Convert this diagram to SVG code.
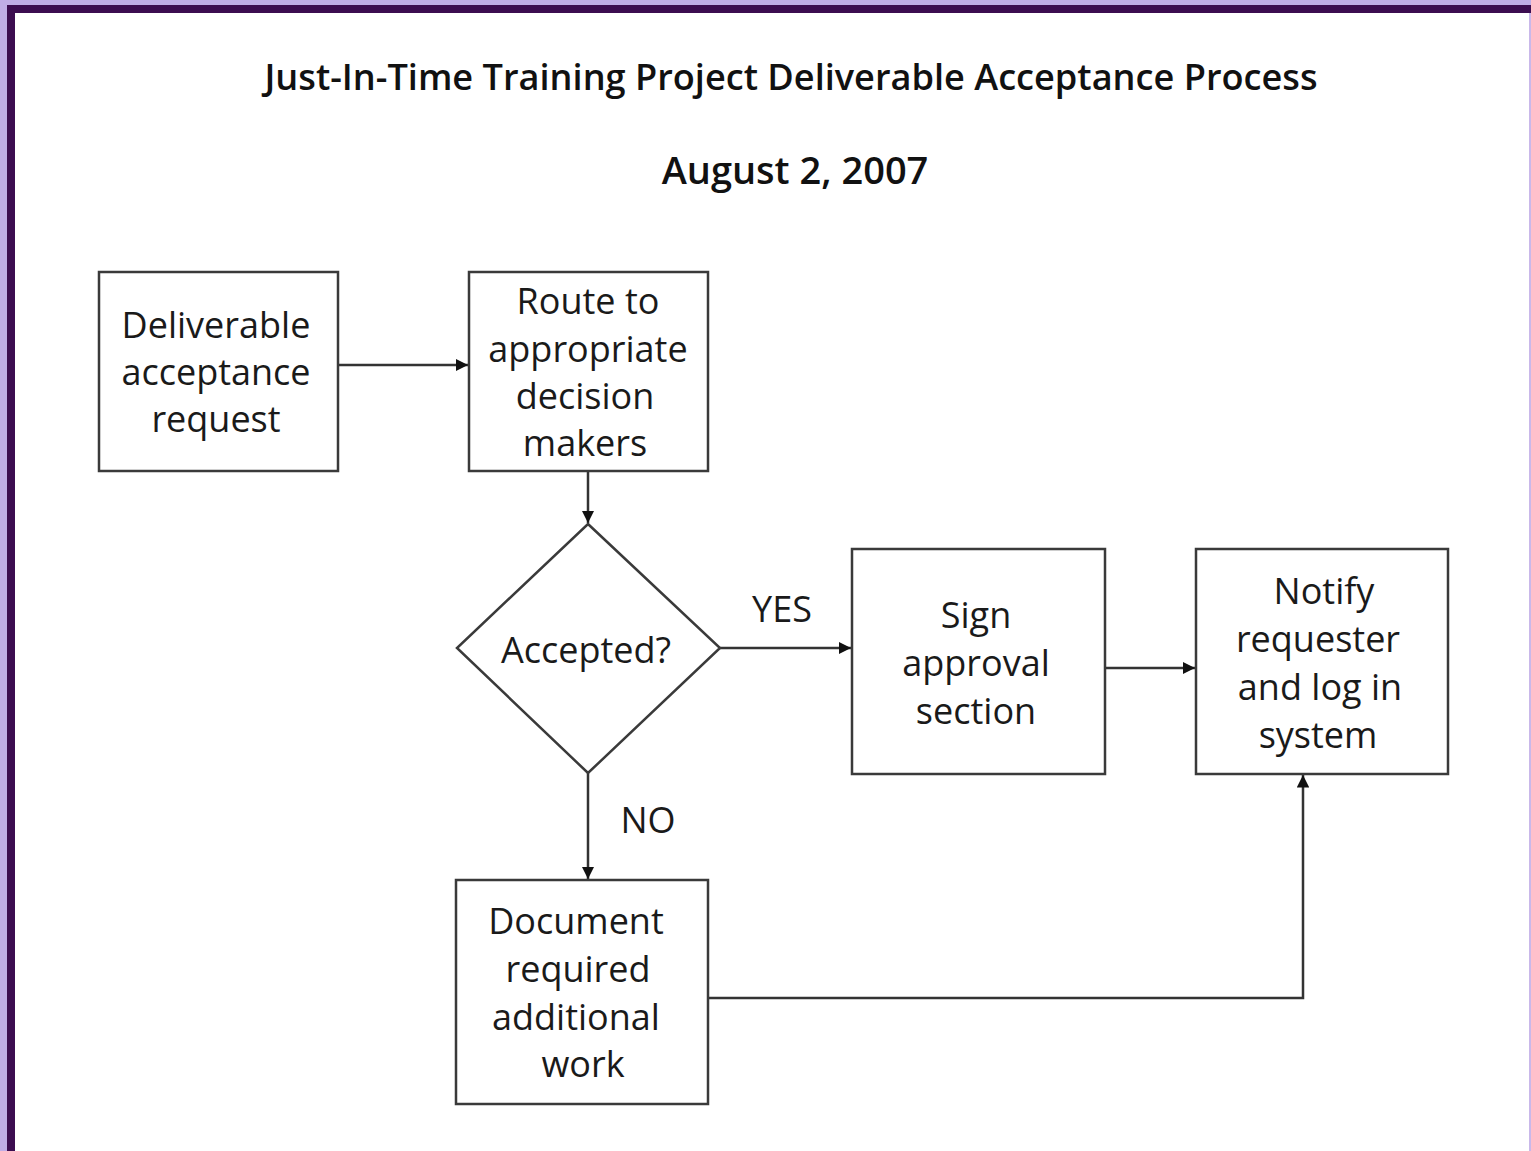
<svg xmlns="http://www.w3.org/2000/svg" width="1531" height="1151" viewBox="0 0 1531 1151">
<style>
.bx{fill:#fff;stroke:#3a3a3a;stroke-width:2.5}
.t{font-family:"Open Sans","DejaVu Sans",sans-serif;font-size:36px;fill:#1a1a1a;text-anchor:middle}
.h{font-family:"Open Sans","DejaVu Sans",sans-serif;font-size:36px;font-weight:600;fill:#111;text-anchor:middle}
.c{fill:none;stroke:#333;stroke-width:2.5}
</style>
<defs>
<marker id="ah" viewBox="0 0 10 10" refX="10" refY="5" markerWidth="5" markerHeight="5" orient="auto" markerUnits="strokeWidth">
<path d="M0,0 L10,5 L0,10 z" fill="#111"/>
</marker>
</defs>
<rect x="0" y="0" width="1531" height="1151" fill="#fff"/>
<rect x="0" y="0" width="1531" height="6" fill="#c0ade6"/>
<rect x="0" y="0" width="7" height="1151" fill="#c0ade6"/>
<rect x="7" y="5" width="1524" height="8" fill="#3c0d50"/>
<rect x="7" y="5" width="8" height="1146" fill="#3c0d50"/>
<rect x="1529" y="13" width="2" height="1138" fill="#c9b8ea"/>
<text class="h" x="791" y="90" textLength="1053" lengthAdjust="spacingAndGlyphs">Just-In-Time Training Project Deliverable Acceptance Process</text>
<text class="h" x="795" y="184" style="font-size:38px">August 2, 2007</text>
<g id="connectors">
<line class="c" x1="338" y1="365" x2="468" y2="365" marker-end="url(#ah)"/>
<line class="c" x1="588" y1="471" x2="588" y2="523" marker-end="url(#ah)"/>
<line class="c" x1="720" y1="648" x2="851" y2="648" marker-end="url(#ah)"/>
<line class="c" x1="1105" y1="668" x2="1195" y2="668" marker-end="url(#ah)"/>
<line class="c" x1="588" y1="773" x2="588" y2="879" marker-end="url(#ah)"/>
<polyline class="c" points="708,998 1303,998 1303,775" marker-end="url(#ah)"/>
<text class="t" x="782" y="622">YES</text>
<text class="t" x="648" y="833">NO</text>
</g>
<g id="n1">
<rect class="bx" x="99" y="272" width="239" height="199"/>
<text class="t" x="216" y="338">Deliverable</text>
<text class="t" x="216" y="385">acceptance</text>
<text class="t" x="216" y="432">request</text>
</g>
<g id="n2">
<rect class="bx" x="469" y="272" width="239" height="199"/>
<text class="t" x="588" y="314">Route to</text>
<text class="t" x="588" y="362">appropriate</text>
<text class="t" x="585" y="409">decision</text>
<text class="t" x="585" y="456">makers</text>
</g>
<g id="n3">
<polygon class="bx" points="588,524 720,648 588,773 457,648"/>
<text class="t" x="586" y="663">Accepted?</text>
</g>
<g id="n4">
<rect class="bx" x="852" y="549" width="253" height="225"/>
<text class="t" x="976" y="628">Sign</text>
<text class="t" x="976" y="676">approval</text>
<text class="t" x="976" y="724">section</text>
</g>
<g id="n5">
<rect class="bx" x="1196" y="549" width="252" height="225"/>
<text class="t" x="1324" y="604">Notify</text>
<text class="t" x="1318" y="652">requester</text>
<text class="t" x="1320" y="700">and log in</text>
<text class="t" x="1318" y="748">system</text>
</g>
<g id="n6">
<rect class="bx" x="456" y="880" width="252" height="224"/>
<text class="t" x="576" y="934">Document</text>
<text class="t" x="578" y="982">required</text>
<text class="t" x="576" y="1030">additional</text>
<text class="t" x="583" y="1077">work</text>
</g>
</svg>
